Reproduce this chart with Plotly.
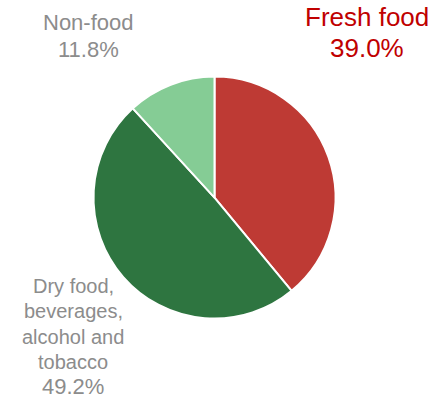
import plotly.graph_objects as go

categories = ["Fresh food", "Dry food, beverages, alcohol and tobacco", "Non-food"]
shares = [39.0, 49.2, 11.8]
slice_colors = ["#BE3A34", "#2E7540", "#85CC95"]

W, H = 433, 401
cx, cy, r = 214.5, 197.6, 121.0

fig = go.Figure(go.Pie(
    labels=categories,
    values=shares,
    sort=False,
    direction="clockwise",
    rotation=0,
    marker=dict(colors=slice_colors, line=dict(color="white", width=2)),
    textinfo="none",
    hoverinfo="label+percent",
    domain=dict(x=[(cx - r) / W, (cx + r) / W], y=[(H - cy - r) / H, (H - cy + r) / H]),
    showlegend=False,
))

# label layout: (lines, x center px, [baseline px per line], font sizes, color)
gray = "#8C8C8C"
red = "#C00000"
label_specs = [
    (["Fresh food", f"{shares[0]:.1f}%"], 366.7, [26.7, 57.3], [26, 26], red),
    (["Dry food,", "beverages,", "alcohol and", "tobacco", f"{shares[1]:.1f}%"], 73.3,
     [293.5, 318.5, 344, 369, 394.3], [20, 20, 20, 20, 22], gray),
    (["Non-food", f"{shares[2]:.1f}%"], 88.8, [30.7, 57.3], [22, 22], gray),
]

annotations = []
for lines, x, baselines, sizes, color in label_specs:
    for text, b, s in zip(lines, baselines, sizes):
        ymid = b - 0.36 * s
        annotations.append(dict(
            text=text, x=x / W, y=1 - ymid / H, xref="paper", yref="paper",
            xanchor="center", yanchor="middle", showarrow=False,
            font=dict(family="Liberation Sans, Arial, sans-serif", size=s, color=color),
        ))

fig.update_layout(
    width=W, height=H,
    margin=dict(l=0, r=0, t=0, b=0),
    paper_bgcolor="white", plot_bgcolor="white",
    annotations=annotations,
)

fig.write_html(
    "out.html",
    config={"displayModeBar": False},
    post_script="document.body.style.margin='0';document.body.style.overflow='hidden';",
)
